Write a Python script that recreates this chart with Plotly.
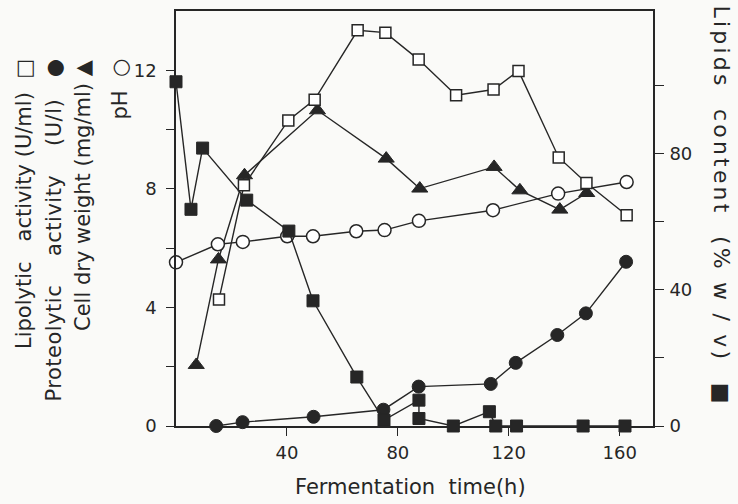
import plotly.graph_objects as go

# ---------------- data ----------------
time_lipolytic = [15.5, 24.5, 40.5, 50, 65.5, 75.5, 87.5, 101, 114.5, 123.5, 138, 148, 162.5]
lipolytic = [4.27, 8.12, 10.31, 11.01, 13.35, 13.27, 12.36, 11.16, 11.35, 11.98, 9.06, 8.20, 7.11]

time_proteolytic = [14.5, 24, 49.6, 74.8, 87.5, 113.5, 122.5, 137.5, 147.8, 162.3]
proteolytic = [0, 0.13, 0.31, 0.55, 1.33, 1.42, 2.13, 3.07, 3.80, 5.54]

time_cdw = [7.3, 15.3, 24.7, 51, 75.8, 87.9, 114.7, 124, 138.4, 148.1]
cell_dry_weight = [2.06, 5.62, 8.46, 10.65, 9.02, 8.01, 8.74, 7.95, 7.30, 7.86]

time_ph = [0, 15.1, 24.1, 40.1, 49.4, 65, 75.2, 87.6, 114.3, 137.8, 162.5]
ph = [5.52, 6.13, 6.21, 6.40, 6.40, 6.57, 6.61, 6.92, 7.28, 7.84, 8.23]

time_lipids = [0, 5.4, 9.6, 25.5, 40.7, 49.4, 65.2, 75, 87.6, 87.6, 100, 113, 115.3, 122.8, 146.8, 161.9]
lipids = [101.2, 63.7, 81.7, 66.4, 57.3, 36.8, 14.4, 1.75, 7.6, 2.2, 0, 4.2, 0, 0, 0, 0]

x_ticks = [40, 80, 120, 160]
left_ticks = [0, 4, 8, 12]
left_minor = [2, 6, 10]
right_ticks = [0, 40, 80]
right_minor = [20, 60, 100]

# ---------------- style ----------------
INK = "#262626"
BG = "#fafaf8"
FONT = "DejaVu Sans"
W, H = 738, 504
L, R, T, B = 176, 653, 11, 426  # plot area in pixels


def px(x):
    return (x - L) / (R - L)


def py(y):
    return (B - y) / (B - T)


fig = go.Figure()

line = dict(color=INK, width=1.4)

fig.add_trace(go.Scatter(
    x=time_lipids, y=lipids, yaxis="y2", mode="lines+markers", name="Lipids",
    line=line, cliponaxis=False,
    marker=dict(symbol="square", size=12, color=INK, line=dict(color=INK, width=1))))

fig.add_trace(go.Scatter(
    x=time_proteolytic, y=proteolytic, mode="lines+markers", name="Proteolytic",
    line=line, cliponaxis=False,
    marker=dict(symbol="circle", size=13, color=INK, line=dict(color=INK, width=1))))

fig.add_trace(go.Scatter(
    x=time_cdw, y=cell_dry_weight, mode="lines+markers", name="Cell dry weight",
    line=line, cliponaxis=False,
    marker=dict(symbol="triangle-up", size=14, color=INK, line=dict(color=INK, width=1))))

fig.add_trace(go.Scatter(
    x=time_ph, y=ph, mode="lines+markers", name="pH",
    line=line, cliponaxis=False,
    marker=dict(symbol="circle", size=13, color="white", line=dict(color=INK, width=1.5))))

fig.add_trace(go.Scatter(
    x=time_lipolytic, y=lipolytic, mode="lines+markers", name="Lipolytic",
    line=line, cliponaxis=False,
    marker=dict(symbol="square", size=11, color="white", line=dict(color=INK, width=1.5))))

tickfont = dict(family=FONT, size=18, color=INK)

fig.update_layout(
    width=W, height=H,
    margin=dict(l=L, r=W - R, t=T, b=H - B, autoexpand=False),
    paper_bgcolor=BG, plot_bgcolor=BG,
    showlegend=False,
    font=dict(family=FONT, color=INK),
    xaxis=dict(range=[0, 172], tickvals=x_ticks, ticks="outside", ticklen=8,
               tickwidth=1.4, tickcolor=INK, showline=True, linecolor=INK,
               linewidth=1.6, mirror=True, showgrid=False, zeroline=False,
               tickfont=tickfont, ticklabelstandoff=2, automargin=False),
    yaxis=dict(range=[0, 14], tickvals=left_ticks, ticks="outside", ticklen=8,
               tickwidth=1.4, tickcolor=INK, showline=True, linecolor=INK,
               linewidth=1.6, showgrid=False, zeroline=False, tickfont=tickfont,
               ticklabelstandoff=6, automargin=False,
               minor=dict(tickvals=left_minor, ticks="outside", ticklen=8,
                          tickwidth=1.4, tickcolor=INK, showgrid=False)),
    yaxis2=dict(range=[0, 122], tickvals=right_ticks, ticks="outside", ticklen=9,
                tickwidth=1.4, tickcolor=INK, showline=True, linecolor=INK,
                linewidth=1.6, showgrid=False, zeroline=False, overlaying="y",
                side="right", tickfont=tickfont, ticklabelstandoff=2,
                automargin=False,
                minor=dict(tickvals=right_minor, ticks="outside", ticklen=9,
                           tickwidth=1.4, tickcolor=INK, showgrid=False)),
)

NB = "\u00a0"
left_labels = [
    (24, f"Lipolytic{NB}{NB} activity{NB}(U/ml){NB}{NB}□", 0),
    (53, f"Proteolytic{NB}{NB}{NB} activity{NB}{NB}{NB} (U/l){NB}{NB}{NB}●", 0.5),
    (83, "Cell dry weight (mg/ml) ▲", 0),
    (119, f"pH{NB}{NB}○", 0),
]
for xpix, txt, spacing in left_labels:
    if spacing:
        txt = f'<span style="letter-spacing:{spacing}px">{txt}</span>'
    fig.add_annotation(x=px(xpix), y=py(57), xref="paper", yref="paper",
                       text=txt, textangle=-90, showarrow=False,
                       xanchor="center", yanchor="top",
                       font=dict(family=FONT, size=21, color=INK))

right_title = f"Lipids{NB} content{NB} (% w / v){NB} ■"
fig.add_annotation(x=px(721), y=py(3), xref="paper", yref="paper",
                   text=f'<span style="letter-spacing:3.2px">{right_title}</span>',
                   textangle=90, showarrow=False, xanchor="center", yanchor="top",
                   font=dict(family=FONT, size=22, color=INK))

fig.add_annotation(x=px(410), y=py(487), xref="paper", yref="paper",
                   text=f"Fermentation{NB}{NB}time(h)", showarrow=False,
                   xanchor="center", yanchor="middle",
                   font=dict(family=FONT, size=21, color=INK))

fig.write_html("out.html", config={"displayModeBar": False},
               post_script="document.body.style.margin='0px';")
